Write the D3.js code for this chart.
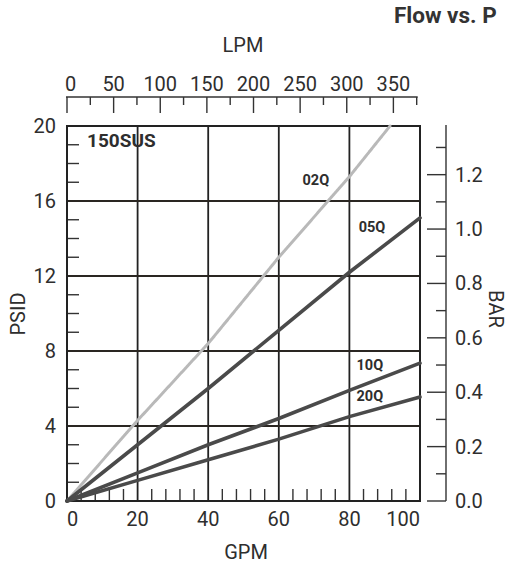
<!DOCTYPE html>
<html>
<head>
<meta charset="utf-8">
<script src="https://cdn.jsdelivr.net/npm/d3@7"></script>
<style>
	body{margin:0;background:#fff;}
	text{font-family:Roboto,"DejaVu Sans",sans-serif;fill:#2e2e2e;}
</style>
</head>
<body>
<svg id="graf" width="510" height="572"></svg>
<script>
/*
	Flow vs. Pressure - 150SUS
*/

// datos
var nombres = ["02Q", "05Q", "10Q", "20Q"];
var caudal = [
	[0, 20, 40, 60, 80, 91.5],
	[0, 20, 40, 60, 80, 100],
	[0, 20, 40, 60, 80, 100],
	[0, 20, 40, 60, 80, 100]
];
var presion = [
	[0, 4.3, 8.4, 13.0, 17.3, 20],
	[0, 3.0, 6.0, 9.1, 12.2, 15.1],
	[0, 1.5, 3.0, 4.4, 5.9, 7.35],
	[0, 1.1, 2.2, 3.3, 4.5, 5.55]
];
// donde va cada etiqueta (GPM, PSID)
var etiqX = [70.5, 86.4, 85.8, 85.8];
var etiqY = [17.1, 14.6, 7.25, 5.6];

var gpmTicks = [0, 20, 40, 60, 80, 100];
var psiTicks = [0, 4, 8, 12, 16, 20];
var lpmTicks = [0, 50, 100, 150, 200, 250, 300, 350];
var barTicks = [0.0, 0.2, 0.4, 0.6, 0.8, 1.0, 1.2];

var LPM_GPM = 3.78541;
var BAR_PSI = 0.0689476;

function init(){
	var lien = d3.select('#graf');

	var x = d3.scaleLinear().domain([0, 100]).range([67, 420]);
	var y = d3.scaleLinear().domain([0, 20]).range([501, 126]);
	var xl = d3.scaleLinear().domain([0, 100*LPM_GPM]).range([67, 420]);
	var yb = d3.scaleLinear().domain([0, 20*BAR_PSI]).range([501, 126]);

	rejilla(lien, x, y);
	ejes(lien, x, y, xl, yb);
	curvas(lien, x, y);
	textos(lien);
}

//Rejilla y marco

function rejilla(lien, x, y){
	var g = lien.append("g");
	// marcas pequeñas izquierda (cada 1 PSID)
	for (var i = 1; i < 20; i++) {
		if (i % 4 == 0) continue;
		g.append("line")
			.attr("x1", x(0)).attr("x2", x(0)+12)
			.attr("y1", y(i)).attr("y2", y(i))
			.attr("stroke", "#333").attr("stroke-width", 1.4);
	}
	// marcas pequeñas abajo (cada 4 GPM)
	for (var j = 4; j < 100; j += 4) {
		if (j % 20 == 0) continue;
		g.append("line")
			.attr("x1", x(j)).attr("x2", x(j))
			.attr("y1", y(0)).attr("y2", y(0)-12)
			.attr("stroke", "#333").attr("stroke-width", 1.4);
	}
	g.selectAll(".vg").data(gpmTicks.slice(1, -1)).enter().append("line")
		.attr("x1", function(d){ return x(d); })
		.attr("x2", function(d){ return x(d); })
		.attr("y1", y(0)).attr("y2", y(20))
		.attr("stroke", "#222").attr("stroke-width", 1.8);
	g.selectAll(".hg").data(psiTicks.slice(1, -1)).enter().append("line")
		.attr("x1", x(0)).attr("x2", x(100))
		.attr("y1", function(d){ return y(d); })
		.attr("y2", function(d){ return y(d); })
		.attr("stroke", "#2a2622").attr("stroke-width", 1.8);
	g.append("rect")
		.attr("x", x(0)).attr("y", y(20))
		.attr("width", x(100)-x(0)).attr("height", y(0)-y(20))
		.attr("fill", "none").attr("stroke", "#222").attr("stroke-width", 2);
}

//Ejes

function ejes(lien, x, y, xl, yb){
	// GPM abajo
	lien.selectAll(".tgpm").data(gpmTicks).enter().append("text")
		.attr("x", function(d){ return x(d); })
		.attr("y", 526)
		.attr("text-anchor", function(d, i){ return i == 0 ? "start" : (i == gpmTicks.length-1 ? "end" : "middle"); })
		.attr("font-size", 20)
		.text(function(d){ return d; });

	// PSID izquierda
	lien.selectAll(".tpsi").data(psiTicks).enter().append("text")
		.attr("x", 56)
		.attr("y", function(d){ return y(d); })
		.attr("dy", "0.35em")
		.attr("text-anchor", "end")
		.attr("font-size", 20)
		.text(function(d){ return d; });

	// LPM arriba
	var top = lien.append("g").attr("transform", "translate(0,97)");
	top.append("line")
		.attr("x1", xl(0)-1).attr("x2", xl(375)+1)
		.attr("y1", 0).attr("y2", 0)
		.attr("stroke", "#333").attr("stroke-width", 1.4);
	for (var l = 0; l <= 375; l += 25) {
		top.append("line")
			.attr("x1", xl(l)).attr("x2", xl(l))
			.attr("y1", 0).attr("y2", l % 50 == 0 ? 16 : 8)
			.attr("stroke", "#333").attr("stroke-width", 1.4);
	}
	top.selectAll("text").data(lpmTicks).enter().append("text")
		.attr("x", function(d){ return xl(d); })
		.attr("y", -6)
		.attr("text-anchor", function(d, i){ return i == 0 ? "start" : "middle"; })
		.attr("dx", function(d, i){ return i == 0 ? -2 : 0; })
		.attr("font-size", 20)
		.text(function(d){ return d; });

	// BAR derecha
	var der = lien.append("g").attr("transform", "translate(446,0)");
	der.append("line")
		.attr("x1", 0).attr("x2", 0)
		.attr("y1", yb(20*BAR_PSI)-1).attr("y2", yb(0))
		.attr("stroke", "#333").attr("stroke-width", 1.4);
	for (var b = 0; b <= 13; b++) {
		der.append("line")
			.attr("x1", b % 2 == 0 ? -19 : -10).attr("x2", 0)
			.attr("y1", yb(b/10)).attr("y2", yb(b/10))
			.attr("stroke", "#333").attr("stroke-width", 1.4);
	}
	der.selectAll("text").data(barTicks).enter().append("text")
		.attr("x", 9)
		.attr("y", function(d){ return yb(d); })
		.attr("dy", "0.35em")
		.attr("font-size", 20)
		.text(function(d){ return d3.format(".1f")(d); });
}

//Curvas

function curvas(lien, x, y){
	var linea = d3.line()
		.x(function(d){ return x(d[0]); })
		.y(function(d){ return y(d[1]); });
	for (var i = 0; i < nombres.length; i++) {
		var pts = d3.zip(caudal[i], presion[i]);
		lien.append("path")
			.attr("d", linea(pts))
			.attr("fill", "none")
			.attr("stroke", i == 0 ? "#b9b9b9" : "#4a4a4a")
			.attr("stroke-width", i == 0 ? 3 : 3.6)
			.attr("stroke-dasharray", i == 0 ? "2,1" : null)
			.attr("stroke-linecap", "round");
		lien.append("text")
			.attr("x", x(etiqX[i]))
			.attr("y", y(etiqY[i]))
			.attr("dy", "0.35em")
			.attr("text-anchor", "middle")
			.attr("font-size", 14.5)
			.attr("font-weight", "bold")
			.text(nombres[i]);
	}
}

//Textos

function textos(lien){
	lien.append("text")
		.attr("x", 394).attr("y", 23)
		.attr("font-size", 22.5).attr("font-weight", "bold")
		.style("fill", "#333")
		.text("Flow vs. P");
	lien.append("text")
		.attr("x", 243).attr("y", 52)
		.attr("text-anchor", "middle").attr("font-size", 20)
		.text("LPM");
	lien.append("text")
		.attr("x", 246).attr("y", 559)
		.attr("text-anchor", "middle").attr("font-size", 20)
		.text("GPM");
	lien.append("text")
		.attr("transform", "translate(25,314) rotate(-90)")
		.attr("text-anchor", "middle").attr("font-size", 20)
		.text("PSID");
	lien.append("text")
		.attr("transform", "translate(489,309) rotate(90)")
		.attr("text-anchor", "middle").attr("font-size", 20)
		.text("BAR");
	lien.append("text")
		.attr("x", 87).attr("y", 147)
		.attr("font-size", 19).attr("font-weight", "bold")
		.text("150SUS");
}

init();
</script>
</body>
</html>
